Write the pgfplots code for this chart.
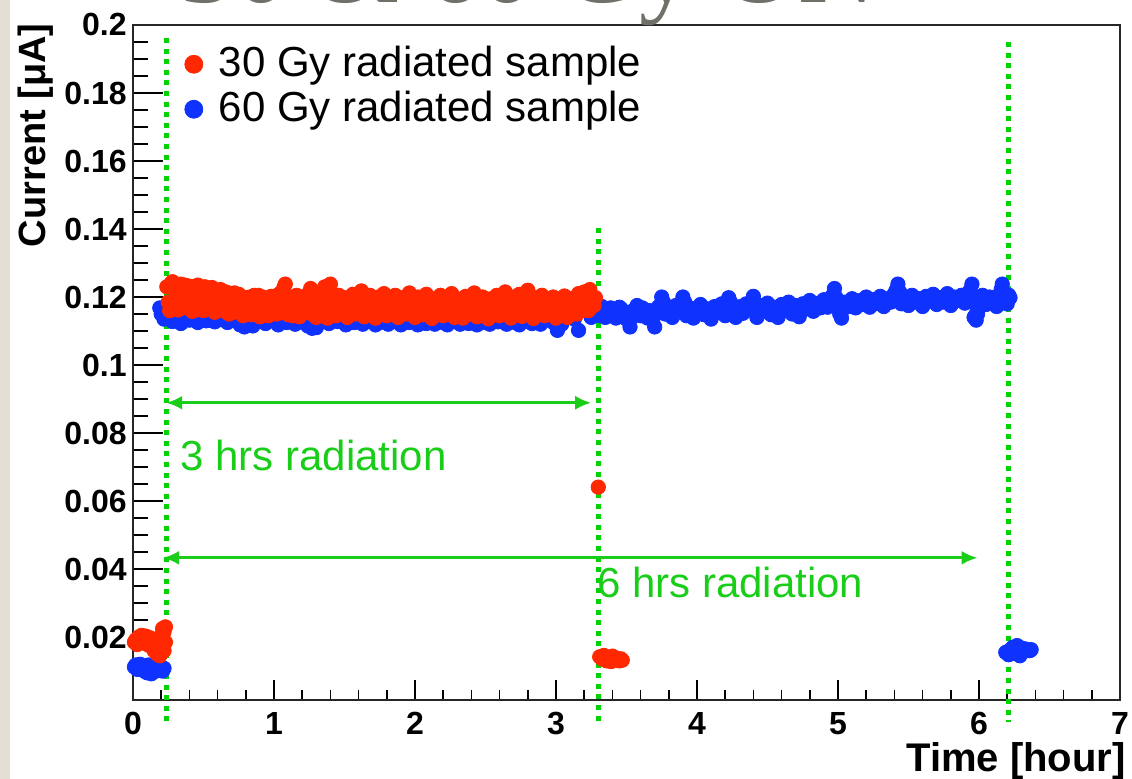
\documentclass[border=0pt]{standalone}
\usepackage{fontspec}
\setmainfont{Liberation Sans}
\newfontfamily\titlefont{Liberation Serif}
\usepackage{pgfplots}
\usepackage{pgfplotstable}
\pgfplotsset{compat=1.18}
\usetikzlibrary{arrows.meta}

\definecolor{rootred}{RGB}{255,40,0}
\definecolor{rootblue}{RGB}{16,50,255}
\definecolor{linegreen}{RGB}{0,212,0}
\definecolor{txtgreen}{RGB}{25,205,25}
\definecolor{titlegray}{RGB}{112,112,104}
\definecolor{strip}{RGB}{226,222,212}

% 30 Gy sample
\pgfplotstableread{
x y
0.01 0.0185
0.02 0.0192
0.03 0.0178
0.04 0.0200
0.05 0.0188
0.06 0.0205
0.07 0.0195
0.08 0.0182
0.09 0.0203
0.10 0.0190
0.11 0.0176
0.12 0.0198
0.13 0.0185
0.14 0.0172
0.15 0.0160
0.16 0.0190
0.17 0.0150
0.18 0.0175
0.19 0.0145
0.20 0.0205
0.21 0.0225
0.22 0.0160
0.22 0.0215
0.23 0.0185
0.23 0.0230
}\redpre
\pgfplotstableread{
x y
0.24 0.1230
0.26 0.1160
0.28 0.1245
0.30 0.1195
0.32 0.1162
0.34 0.1238
0.36 0.1210
0.38 0.1170
0.40 0.1232
0.42 0.1158
0.44 0.1200
0.46 0.1235
0.48 0.1180
0.50 0.1160
0.52 0.1225
0.54 0.1190
0.56 0.1228
0.58 0.1155
0.60 0.1205
0.62 0.1222
0.64 0.1165
0.66 0.1215
0.68 0.1150
0.70 0.1190
0.72 0.1212
0.74 0.1160
0.76 0.1203
0.78 0.1145
0.80 0.1198
0.82 0.1175
0.84 0.1148
0.86 0.1205
0.88 0.1185
0.90 0.1142
0.92 0.1200
0.94 0.1165
0.96 0.1145
0.98 0.1202
1.00 0.1180
1.02 0.1150
1.04 0.1210
1.06 0.1170
1.08 0.1238
1.10 0.1148
1.12 0.1195
1.14 0.1160
1.16 0.1205
1.18 0.1142
1.20 0.1190
1.22 0.1203
1.24 0.1155
1.26 0.1225
1.28 0.1175
1.30 0.1140
1.32 0.1200
1.34 0.1168
1.36 0.1230
1.38 0.1138
1.40 0.1238
1.42 0.1185
1.44 0.1145
1.46 0.1205
1.48 0.1160
1.50 0.1198
1.52 0.1140
1.54 0.1180
1.56 0.1208
1.58 0.1150
1.60 0.1195
1.62 0.1218
1.64 0.1142
1.66 0.1185
1.68 0.1205
1.70 0.1155
1.72 0.1138
1.74 0.1200
1.76 0.1170
1.78 0.1210
1.80 0.1145
1.82 0.1190
1.84 0.1162
1.86 0.1205
1.88 0.1140
1.90 0.1198
1.92 0.1175
1.94 0.1150
1.96 0.1212
1.98 0.1165
2.00 0.1140
2.02 0.1200
2.04 0.1180
2.06 0.1148
2.08 0.1208
2.10 0.1160
2.12 0.1137
2.14 0.1195
2.16 0.1175
2.18 0.1205
2.20 0.1145
2.22 0.1188
2.24 0.1160
2.26 0.1210
2.28 0.1140
2.30 0.1195
2.32 0.1170
2.34 0.1138
2.36 0.1202
2.38 0.1155
2.40 0.1190
2.42 0.1212
2.44 0.1142
2.46 0.1180
2.48 0.1200
2.50 0.1152
2.52 0.1136
2.54 0.1195
2.56 0.1168
2.58 0.1205
2.60 0.1145
2.62 0.1185
2.64 0.1215
2.66 0.1158
2.68 0.1138
2.70 0.1200
2.72 0.1172
2.74 0.1208
2.76 0.1143
2.78 0.1190
2.80 0.1220
2.82 0.1160
2.84 0.1137
2.86 0.1198
2.88 0.1170
2.90 0.1205
2.92 0.1145
2.94 0.1185
2.96 0.1158
2.98 0.1200
3.00 0.1138
3.02 0.1192
3.04 0.1165
3.06 0.1203
3.08 0.1140
3.10 0.1180
3.12 0.1150
3.14 0.1198
3.16 0.1210
3.18 0.1160
3.20 0.1215
3.22 0.1175
3.24 0.1222
3.26 0.1185
3.28 0.1198
0.25 0.1185
0.27 0.1240
0.29 0.1165
0.31 0.1222
0.33 0.1200
0.35 0.1168
0.37 0.1235
0.39 0.1190
0.41 0.1212
0.43 0.1178
0.45 0.1162
0.47 0.1215
0.49 0.1195
0.51 0.1230
0.53 0.1165
0.55 0.1205
0.57 0.1180
0.59 0.1218
0.61 0.1170
0.63 0.1195
0.65 0.1158
0.67 0.1200
0.69 0.1178
0.71 0.1155
0.73 0.1190
0.75 0.1208
0.77 0.1172
0.79 0.1188
0.81 0.1150
0.83 0.1200
0.85 0.1165
0.87 0.1180
0.89 0.1205
0.91 0.1160
0.93 0.1185
0.95 0.1195
0.97 0.1170
0.99 0.1150
1.01 0.1200
1.03 0.1175
1.05 0.1190
1.07 0.1228
1.09 0.1160
1.11 0.1178
1.13 0.1145
1.15 0.1195
1.17 0.1170
1.19 0.1185
1.21 0.1155
1.23 0.1178
1.25 0.1200
1.27 0.1150
1.29 0.1190
1.31 0.1165
1.33 0.1185
1.35 0.1212
1.37 0.1160
1.39 0.1225
1.41 0.1170
1.43 0.1195
1.45 0.1155
1.47 0.1180
1.49 0.1150
1.51 0.1185
1.53 0.1165
1.55 0.1195
1.57 0.1175
1.59 0.1160
1.61 0.1185
1.63 0.1170
1.65 0.1155
1.67 0.1192
1.69 0.1172
1.71 0.1185
1.73 0.1160
1.75 0.1150
1.77 0.1188
1.79 0.1168
1.81 0.1178
1.83 0.1150
1.85 0.1180
1.87 0.1160
1.89 0.1188
1.91 0.1155
1.93 0.1195
1.95 0.1170
1.97 0.1182
1.99 0.1160
2.01 0.1175
2.03 0.1150
2.05 0.1190
2.07 0.1172
2.09 0.1182
2.11 0.1150
2.13 0.1168
2.15 0.1185
2.17 0.1155
2.19 0.1178
2.21 0.1165
2.23 0.1198
2.25 0.1175
2.27 0.1150
2.29 0.1182
2.31 0.1160
2.33 0.1190
2.35 0.1168
2.37 0.1180
2.39 0.1150
2.41 0.1172
2.43 0.1185
2.45 0.1158
2.47 0.1195
2.49 0.1168
2.51 0.1180
2.53 0.1160
2.55 0.1175
2.57 0.1150
2.59 0.1185
2.61 0.1168
2.63 0.1192
2.65 0.1175
2.67 0.1152
2.69 0.1180
2.71 0.1160
2.73 0.1185
2.75 0.1170
2.77 0.1155
2.79 0.1200
2.81 0.1175
2.83 0.1150
2.85 0.1180
2.87 0.1160
2.89 0.1185
2.91 0.1170
2.93 0.1155
2.95 0.1190
2.97 0.1175
2.99 0.1150
3.01 0.1168
3.03 0.1180
3.05 0.1152
3.07 0.1175
3.09 0.1160
3.11 0.1195
3.13 0.1172
3.15 0.1150
3.17 0.1185
3.19 0.1170
3.21 0.1195
3.23 0.1160
3.25 0.1205
3.27 0.1175
}\redmain
\pgfplotstableread{
x y
3.30 0.0641
3.31 0.0142
3.33 0.0135
3.34 0.0146
3.36 0.0130
3.37 0.0140
3.39 0.0128
3.40 0.0144
3.42 0.0133
3.43 0.0138
3.45 0.0130
3.46 0.0136
3.47 0.0132
}\redpost

% 60 Gy sample
\pgfplotstableread{
x y
0.01 0.0112
0.02 0.0118
0.03 0.0105
0.04 0.0115
0.05 0.0120
0.06 0.0108
0.07 0.0116
0.08 0.0100
0.09 0.0112
0.10 0.0095
0.11 0.0118
0.12 0.0104
0.13 0.0092
0.14 0.0110
0.15 0.0098
0.16 0.0115
0.17 0.0102
0.18 0.0112
0.19 0.0105
0.20 0.0110
0.21 0.0100
0.22 0.0108
}\bluepre
\pgfplotstableread{
x y
0.19 0.1168
0.20 0.1150
0.22 0.1135
0.25 0.1160
0.28 0.1128
0.31 0.1145
0.34 0.1122
0.37 0.1155
0.40 0.1132
0.43 0.1148
0.46 0.1125
0.49 0.1140
0.52 0.1130
0.55 0.1158
0.58 0.1127
0.61 0.1142
0.64 0.1133
0.67 0.1125
0.70 0.1150
0.73 0.1130
0.76 0.1118
0.79 0.1112
0.82 0.1135
0.85 0.1115
0.88 0.1128
0.91 0.1145
0.94 0.1122
0.97 0.1130
1.00 0.1140
1.03 0.1118
1.06 0.1132
1.09 0.1125
1.12 0.1150
1.15 0.1120
1.18 0.1135
1.21 0.1128
1.24 0.1115
1.27 0.1108
1.30 0.1110
1.33 0.1130
1.36 0.1145
1.39 0.1122
1.42 0.1135
1.45 0.1128
1.48 0.1140
1.51 0.1118
1.54 0.1132
1.57 0.1125
1.60 0.1145
1.63 0.1120
1.66 0.1130
1.69 0.1138
1.72 0.1118
1.75 0.1125
1.78 0.1142
1.81 0.1120
1.84 0.1133
1.87 0.1127
1.90 0.1118
1.93 0.1138
1.96 0.1125
1.99 0.1130
2.02 0.1118
2.05 0.1140
2.08 0.1122
2.11 0.1132
2.14 0.1120
2.17 0.1135
2.20 0.1125
2.23 0.1118
2.26 0.1140
2.29 0.1128
2.32 0.1120
2.35 0.1135
2.38 0.1122
2.41 0.1130
2.44 0.1118
2.47 0.1138
2.50 0.1125
2.53 0.1120
2.56 0.1132
2.59 0.1127
2.62 0.1140
2.65 0.1120
2.68 0.1130
2.71 0.1125
2.74 0.1118
2.77 0.1135
2.80 0.1128
2.83 0.1122
2.86 0.1140
2.89 0.1120
2.92 0.1132
2.95 0.1145
2.98 0.1125
3.01 0.1102
3.04 0.1120
3.07 0.1150
3.10 0.1165
3.13 0.1135
3.16 0.1102
3.19 0.1172
3.22 0.1160
3.25 0.1140
3.275 0.1168
3.30 0.1150
3.325 0.1172
3.35 0.1140
3.375 0.1165
3.40 0.1155
3.425 0.1138
3.45 0.1170
3.475 0.1148
3.50 0.1135
3.525 0.1112
3.55 0.1160
3.575 0.1175
3.60 0.1145
3.625 0.1162
3.65 0.1138
3.675 0.1155
3.70 0.1112
3.725 0.1170
3.75 0.1200
3.775 0.1150
3.80 0.1165
3.825 0.1140
3.85 0.1175
3.875 0.1158
3.90 0.1200
3.925 0.1145
3.95 0.1168
3.975 0.1138
4.00 0.1160
4.025 0.1178
4.05 0.1148
4.075 0.1165
4.10 0.1135
4.125 0.1172
4.15 0.1155
4.175 0.1180
4.20 0.1145
4.225 0.1198
4.25 0.1162
4.275 0.1140
4.30 0.1170
4.325 0.1152
4.35 0.1180
4.375 0.1165
4.40 0.1202
4.425 0.1140
4.45 0.1175
4.475 0.1158
4.50 0.1182
4.525 0.1148
4.55 0.1170
4.575 0.1140
4.60 0.1178
4.625 0.1162
4.65 0.1185
4.675 0.1150
4.70 0.1175
4.725 0.1142
4.75 0.1180
4.775 0.1165
4.80 0.1190
4.825 0.1158
4.85 0.1178
4.875 0.1168
4.90 0.1192
4.925 0.1170
4.95 0.1198
4.975 0.1225
5.00 0.1175
5.025 0.1138
5.05 0.1185
5.075 0.1172
5.10 0.1195
5.125 0.1168
5.15 0.1188
5.175 0.1178
5.20 0.1200
5.225 0.1170
5.25 0.1192
5.275 0.1182
5.30 0.1202
5.325 0.1172
5.35 0.1195
5.375 0.1185
5.40 0.1210
5.425 0.1238
5.45 0.1180
5.475 0.1198
5.50 0.1175
5.525 0.1205
5.55 0.1185
5.575 0.1195
5.60 0.1172
5.625 0.1202
5.65 0.1188
5.675 0.1208
5.70 0.1178
5.725 0.1198
5.75 0.1185
5.775 0.1210
5.80 0.1175
5.825 0.1200
5.85 0.1190
5.875 0.1205
5.90 0.1182
5.925 0.1212
5.95 0.1238
5.965 0.1140
5.98 0.1132
5.99 0.1150
6.00 0.1185
6.025 0.1205
6.05 0.1178
6.075 0.1200
6.10 0.1188
6.125 0.1172
6.15 0.1210
6.165 0.1238
6.18 0.1195
6.20 0.1180
6.21 0.1206
6.22 0.1198
3.2875 0.1160
3.3125 0.1145
3.3375 0.1162
3.3625 0.1150
3.3875 0.1168
3.4125 0.1148
3.4375 0.1158
3.4625 0.1165
3.4875 0.1145
3.5125 0.1155
3.5375 0.1140
3.5625 0.1165
3.5875 0.1150
3.6125 0.1168
3.6375 0.1148
3.6625 0.1160
3.6875 0.1135
3.7125 0.1155
3.7375 0.1175
3.7625 0.1185
3.7875 0.1158
3.8125 0.1148
3.8375 0.1165
3.8625 0.1155
3.8875 0.1178
3.9125 0.1185
3.9375 0.1160
3.9625 0.1150
3.9875 0.1165
4.0125 0.1155
4.0375 0.1170
4.0625 0.1158
4.0875 0.1150
4.1125 0.1168
4.1375 0.1162
4.1625 0.1170
4.1875 0.1160
4.2125 0.1178
4.2375 0.1185
4.2625 0.1155
4.2875 0.1165
4.3125 0.1172
4.3375 0.1160
4.3625 0.1172
4.3875 0.1185
4.4125 0.1170
4.4375 0.1158
4.4625 0.1168
4.4875 0.1172
4.5125 0.1165
4.5375 0.1158
4.5625 0.1162
4.5875 0.1172
4.6125 0.1168
4.6375 0.1175
4.6625 0.1165
4.6875 0.1160
4.7125 0.1170
4.7375 0.1162
4.7625 0.1175
4.7875 0.1180
4.8125 0.1172
4.8375 0.1168
4.8625 0.1182
4.8875 0.1178
4.9125 0.1185
4.9375 0.1180
4.9625 0.1205
4.9875 0.1198
5.0125 0.1150
5.0375 0.1165
5.0625 0.1180
5.0875 0.1185
5.1125 0.1178
5.1375 0.1182
5.1625 0.1190
5.1875 0.1185
5.2125 0.1180
5.2375 0.1188
5.2625 0.1180
5.2875 0.1192
5.3125 0.1185
5.3375 0.1180
5.3625 0.1192
5.3875 0.1198
5.4125 0.1220
5.4375 0.1215
5.4625 0.1190
5.4875 0.1185
5.5125 0.1192
5.5375 0.1195
5.5625 0.1188
5.5875 0.1185
5.6125 0.1192
5.6375 0.1198
5.6625 0.1195
5.6875 0.1190
5.7125 0.1188
5.7375 0.1192
5.7625 0.1198
5.7875 0.1192
5.8125 0.1188
5.8375 0.1195
5.8625 0.1198
5.8875 0.1192
5.9125 0.1200
5.9375 0.1220
5.9725 0.1145
5.9875 0.1160
6.0125 0.1195
6.0375 0.1192
6.0625 0.1190
6.0875 0.1195
6.1125 0.1180
6.1375 0.1195
6.1575 0.1222
6.1875 0.1200
6.2125 0.1195
}\bluemain
\pgfplotstableread{
x y
6.19 0.0155
6.21 0.0148
6.22 0.0162
6.24 0.0170
6.25 0.0152
6.27 0.0175
6.28 0.0160
6.29 0.0145
6.30 0.0168
6.32 0.0158
6.33 0.0165
6.35 0.0162
6.36 0.0160
6.37 0.0163
}\bluepost

\begin{document}
\begin{tikzpicture}
\useasboundingbox (-66.5pt,-39.5pt) rectangle (499.5pt,350pt);
\fill[strip] (-66.5pt,-39.5pt) rectangle (-61.5pt,350pt);
\begin{axis}[
    scale only axis, width=493.5pt, height=337.5pt,
    at={(0,0)}, anchor=south west,
    xmin=0, xmax=7, ymin=0.0015, ymax=0.2,
    clip=false,
    xtick={0,1,2,3,4,5,6,7}, xticklabels={0,1,2,3,4,5,6,7},
    ytick={0.02,0.04,0.06,0.08,0.1,0.12,0.14,0.16,0.18,0.2},
    yticklabels={0.02,0.04,0.06,0.08,0.1,0.12,0.14,0.16,0.18,0.2},
    minor x tick num=4, minor y tick num=3,
    tick align=inside, tick pos=left,
    major tick length=15pt, minor tick length=7.5pt,
    x tick style={/pgfplots/major tick length=10pt, /pgfplots/minor tick length=5pt},
    tick style={black, line width=0.8pt},
    axis line style={black!85, line width=1pt},
    /pgf/number format/assume math mode=true,
    ticklabel style={font=\fontsize{16}{16}\selectfont\bfseries, inner sep=0pt},
    xticklabel style={yshift=-6pt},
    yticklabel style={xshift=-3pt},
    xlabel={Time [hour]},
    xlabel style={at={(axis description cs:1,0)}, anchor=north east,
        inner sep=0pt, yshift=-21pt, xshift=3pt,
        font=\fontsize{20}{20}\selectfont\bfseries},
    ylabel={Current [μA]},
    ylabel style={at={(axis description cs:-0.0983,1.003)}, anchor=east,
        inner sep=0pt, font=\fontsize{19}{19}\selectfont\bfseries},
    legend cell align=left,
    reverse legend,
    legend image code/.code={\fill (4.5pt,0pt) circle (4.5pt); \path[draw=none] (0pt,0pt) -- (16pt,0pt);},
    legend style={at={(axis description cs:0.0517,0.975)}, anchor=north west,
        draw=none, fill=none, inner sep=0pt, row sep=0.5pt,
        font=\fontsize{21}{21}\selectfont,
        nodes={inner sep=1pt, text height=16pt, text depth=4pt}},
    every axis plot/.append style={mark size=3.6pt},
]
% 60 Gy first so that the 30 Gy points lie on top
\addplot[only marks, mark=*, color=rootblue, forget plot] table {\bluepre};
\addplot[only marks, mark=*, color=rootblue] table {\bluemain};
\addlegendentry{60 Gy radiated sample}
\addplot[only marks, mark=*, color=rootblue, forget plot] table {\bluepost};
\addplot[only marks, mark=*, color=rootred, forget plot] table {\redpre};
\addplot[only marks, mark=*, color=rootred] table {\redmain};
\addlegendentry{30 Gy radiated sample}
\addplot[only marks, mark=*, color=rootred, forget plot] table {\redpost};

% beam on / off markers
\addplot[linegreen, line width=2.5pt, dash pattern=on 2.5pt off 2.8pt, forget plot]
    coordinates {(0.235,0.1962) (0.235,-0.006)};
\addplot[linegreen, line width=2.5pt, dash pattern=on 2.5pt off 2.8pt, forget plot]
    coordinates {(3.30,0.1403) (3.30,-0.006)};
\addplot[linegreen, line width=2.5pt, dash pattern=on 2.5pt off 2.8pt, forget plot]
    coordinates {(6.21,0.1950) (6.21,-0.005)};

\addplot[txtgreen, line width=1.5pt, {Latex[length=8pt,width=7pt]}-{Latex[length=8pt,width=7pt]}, forget plot]
    coordinates {(0.235,0.0889) (3.25,0.0889)};
\addplot[txtgreen, line width=1.5pt, {Latex[length=8pt,width=7pt]}-{Latex[length=8pt,width=7pt]}, forget plot]
    coordinates {(0.213,0.0433) (5.99,0.0433)};

\node[anchor=base west, inner sep=0pt, text=txtgreen, font=\fontsize{21}{21}\selectfont]
    at (axis cs:0.334,0.0691) {3 hrs radiation};
\node[anchor=base west, inner sep=0pt, text=txtgreen, font=\fontsize{21}{21}\selectfont]
    at (axis cs:3.29,0.0315) {6 hrs radiation};
\end{axis}
\begin{scope}
\clip (-66.5pt,-39.5pt) rectangle (499.5pt,350pt);
\node[anchor=base west, inner sep=0pt, text=titlegray, font=\titlefont\fontsize{54}{54}\selectfont]
    at (23.5pt,348.5pt) {30 \& 60 Gy ON};
\end{scope}
\end{tikzpicture}
\end{document}
